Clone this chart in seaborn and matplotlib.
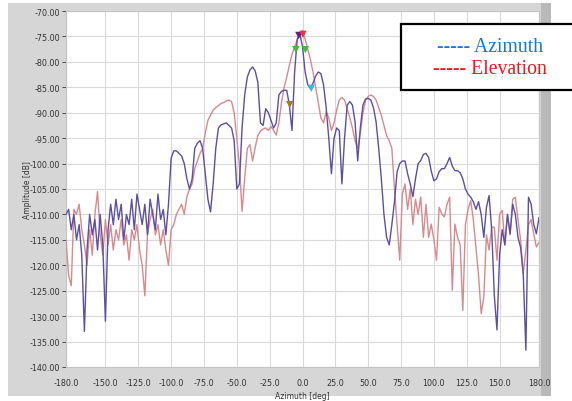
import numpy as np
import pandas as pd
import matplotlib
matplotlib.use("Agg")
import matplotlib.pyplot as plt
import seaborn as sns
from matplotlib.patches import Rectangle

# ---------------- data ----------------
angles = list(range(-180, 181, 2))

azimuth_db = [
    -110, -109, -113, -110, -115, -112, -118, -133, -117, -110,
    -114, -111, -117, -110, -116, -131, -113, -108, -112, -107,
    -111, -108, -115, -110, -112, -107, -113, -106, -109, -112,
    -108, -114, -107, -110, -113, -106, -111, -109, -114, -108,
    -99, -97.5, -97.5, -98, -98.5, -100, -103, -105, -103, -97,
    -96, -95.5, -97, -102, -107, -109.5, -104, -97, -93, -92.4,
    -92.2, -92, -92.5, -93, -95.5, -105, -104, -93, -86.5, -83,
    -81.6, -81, -81.8, -84, -92, -92.5, -89.2, -90, -91.5, -93,
    -92, -86.5, -85.8, -85.6, -85.6, -88.5, -93.5, -82, -75.5, -74.5,
    -77, -82, -84.5, -85.2, -84.2, -82.8, -82, -82.3, -84.5, -89,
    -95, -102, -95, -93, -93.5, -104, -95, -88.5, -87.8, -88.5,
    -91.8, -99.5, -93, -88.5, -87.3, -87.2, -87.5, -89, -91.8, -97,
    -103, -110, -114.5, -116, -112, -107.5, -101.6, -100, -99.5, -99.5,
    -102, -104, -106.5, -103, -100, -99.4, -98.2, -98, -98.8, -101.5,
    -103.4, -103, -101.6, -101, -101, -100, -98.8, -100.5, -101.4, -101.4,
    -101.8, -103, -105, -106, -106.6, -107.5, -109, -107.5, -110, -114.5,
    -108.6, -106.3, -113, -126, -132.7, -118, -113, -116, -110, -113.8,
    -108, -110, -114.5, -116.5, -121.7, -136.7, -106.6, -108, -112, -113.8,
    -110.6,
]

elevation_db = [
    -115, -122, -124, -109, -110, -108, -113, -116, -120, -113,
    -118, -110, -105.5, -114, -118, -111, -116, -112, -117, -113,
    -115, -111, -116, -114, -119, -113, -115, -112, -117, -120,
    -126, -114, -111, -109, -114, -112, -116, -113, -117, -120,
    -113, -112, -110, -109, -108, -110, -106.5, -105, -104, -101,
    -99.5, -98, -97, -94, -91.5, -90.5, -89.5, -89, -88.6, -88.2,
    -88, -87.7, -87.5, -87.8, -90, -95, -100.5, -109.4, -103, -97,
    -96.3, -99.5, -96.8, -94.5, -93.6, -93.2, -93, -93.5, -92.7, -93.5,
    -94.4, -92, -88, -85, -83, -80.7, -78.5, -77, -75.8, -74.5,
    -73.8, -75.5, -77.5, -79.5, -82, -85, -88, -91, -92, -89.8,
    -91, -93.5, -92, -89.5, -87.5, -87, -87.5, -89.2, -91, -93,
    -95.5, -97, -94, -90, -87.5, -86.8, -86.5, -86.8, -87.5, -89,
    -90.5, -92.5, -94.5, -95.5, -97, -105, -112, -119, -106, -104,
    -109, -105, -112, -107, -110, -106.6, -114.5, -108, -114.5, -111.9,
    -115, -119, -108.6, -109.9, -110.5, -108, -106.6, -124.9, -111.9, -114.5,
    -116, -128.9, -112, -109, -107.3, -111, -116.4, -122, -129.5, -126.2,
    -114, -117, -112.5, -112.5, -119, -110, -109.2, -116, -110, -114,
    -107, -106.6, -111, -115, -121.7, -117, -112, -111, -113.8, -116.4,
    -115.5,
]

marker_x = [-2.8, 0.3, -5.0, 2.2, 6.7, -9.7]
marker_y = [-74.8, -74.6, -77.6, -77.6, -85.2, -88.4]
marker_names = ["m1", "m2", "m3", "m4", "m5", "m6"]
marker_colors = ["#6b1f7c", "#e8323c", "#3dbb3d", "#3dbb3d", "#38b6e6", "#a67c1e"]

x_ticks = [-180, -150, -125, -100, -75, -50, -25, 0, 25, 50, 75, 100, 125, 150, 180]
x_tick_labels = ["-180.0", "-150.0", "-125.0", "-100.0", "-75.0", "-50.0", "-25.0", "0.0",
                 "25.0", "50.0", "75.0", "100.0", "125.0", "150.0", "180.0"]
y_ticks = [-70, -75, -80, -85, -90, -95, -100, -105, -110, -115, -120, -125, -130, -135, -140]

legend_labels = ["----- Azimuth", "----- Elevation"]

# ---------------- figure ----------------
sns.set_theme(style="whitegrid")
plt.rcParams["font.family"] = ["Liberation Sans Narrow", "DejaVu Sans"]

W, H = 572, 402
fig = plt.figure(figsize=(W / 100, H / 100), dpi=100, facecolor="white")

# grey panel background
fig.add_artist(Rectangle((8 / W, 1 - 397 / H), (551 - 8) / W, (397 - 4) / H,
                         transform=fig.transFigure, facecolor="#d6d6d6",
                         edgecolor="none", zorder=0))
fig.add_artist(Rectangle((541 / W, 1 - 397 / H), 10 / W, (397 - 4) / H,
                         transform=fig.transFigure, facecolor="#b9b9b9",
                         edgecolor="none", zorder=0))

ax = fig.add_axes([66 / W, 1 - 368 / H, (539 - 66) / W, (368 - 12) / H])
ax.set_facecolor("white")

df = pd.DataFrame({"angle": angles, "az": azimuth_db, "el": elevation_db})
sns.lineplot(data=df, x="angle", y="el", color="#d98a8e", lw=1.0, ax=ax, zorder=3)
sns.lineplot(data=df, x="angle", y="az", color="#5c4fa6", lw=1.0, ax=ax, zorder=4)

mdf = pd.DataFrame({"x": marker_x, "y": marker_y, "m": marker_names})
sns.scatterplot(data=mdf, x="x", y="y", hue="m", palette=marker_colors, marker="v",
                s=28, edgecolor="none", legend=False, ax=ax, zorder=5)

ax.set_xlim(-180, 180)
ax.set_ylim(-140, -70)
ax.set_xticks(x_ticks)
ax.set_xticklabels(x_tick_labels)
ax.set_yticks(y_ticks)
ax.set_yticklabels([f"{v:.2f}" for v in y_ticks])
ax.grid(True, color="#dadada", lw=0.8)
for s in ax.spines.values():
    s.set_color("#c4c4c4")
    s.set_linewidth(0.8)
ax.tick_params(axis="y", labelsize=5.8, colors="#333333", length=3, width=0.6,
               direction="out", left=True, pad=1)
ax.tick_params(axis="x", labelsize=5.8, colors="#333333", length=0, pad=8)
ax.set_xlabel("Azimuth [deg]", fontsize=5.5, color="#333333")
ax.set_ylabel("Amplitude [dB]", fontsize=5.5, color="#333333")
ax.xaxis.set_label_coords(0.5, -0.068)
ax.yaxis.set_label_coords(-0.072, 0.5)

# custom legend box
fig.add_artist(Rectangle((401 / W, 1 - 91 / H), 200 / W, (91 - 25) / H,
                         transform=fig.transFigure, facecolor="white",
                         edgecolor="black", lw=1.6, zorder=10, clip_on=False))
fig.text(490 / W, 1 - 47 / H, legend_labels[0], ha="center", va="center",
         color="#1a78d2", fontsize=14.2, family=["Liberation Serif", "DejaVu Serif"], zorder=11)
fig.text(490 / W, 1 - 70 / H, legend_labels[1], ha="center", va="center",
         color="#f0141e", fontsize=14.2, family=["Liberation Serif", "DejaVu Serif"], zorder=11)

fig.savefig("out.png", dpi=100, facecolor=fig.get_facecolor())
